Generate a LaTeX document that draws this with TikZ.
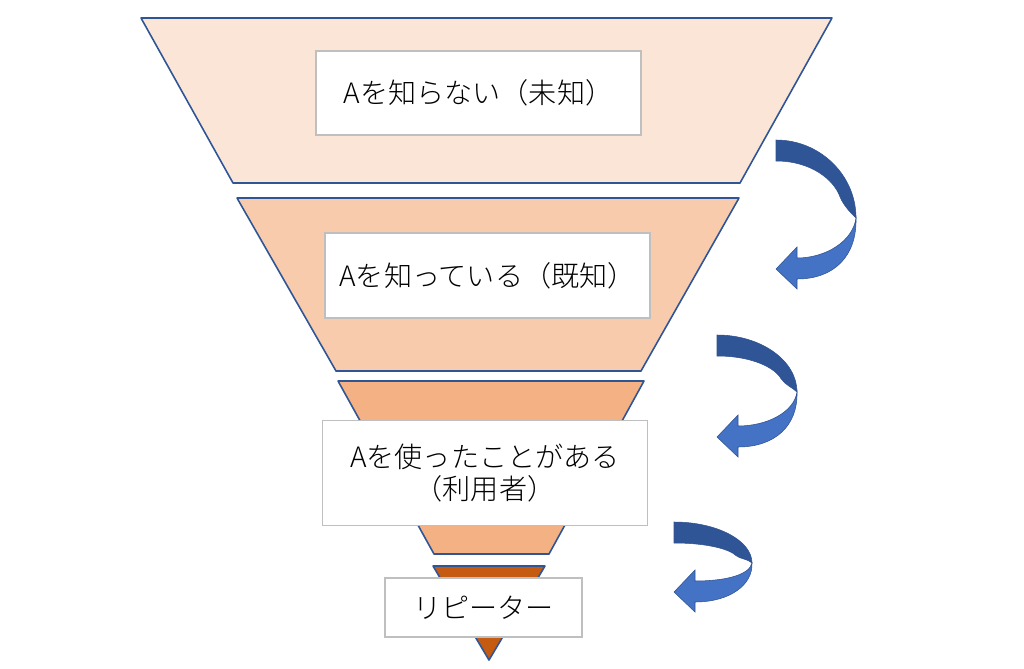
\documentclass[tikz,border=0pt]{standalone}
\usepackage{fontspec}
\newfontfamily\jp{Noto Sans CJK JP Light}
\definecolor{fillA}{HTML}{FBE5D6}
\definecolor{fillB}{HTML}{F8CBAD}
\definecolor{fillC}{HTML}{F4B183}
\definecolor{fillD}{HTML}{C55A11}
\definecolor{edgeblue}{HTML}{2F5597}
\definecolor{boxgray}{HTML}{BFBFBF}
\definecolor{arrdarkc}{HTML}{2F5597}
\definecolor{arrlightc}{HTML}{4472C4}
\definecolor{arrlinec}{HTML}{2F528F}
\newcommand\curvearrow[5]{%
\begin{scope}[shift={(#1,#2)}]
\filldraw[arrdark] (0,0) .. controls ({0.55*#3},0) and (#3,{0.45*#5}) .. (#3,#5)
  .. controls ({#3-4},{#5-4}) and ({#3-12},{21+0.8*(#5-21)}) .. ({#3-16},{21+0.63*(#5-21)})
  .. controls ({#3-22},{21+0.33*(#5-21)}) and ({0.44*#3},21) .. (0,21) -- cycle;
\filldraw[arrlight] (#3,#5) .. controls ({#3+1},{#5+0.75*(#4-#5)}) and ({#3-22},{#4+10}) .. (21,{#4+10})
  -- (21,{#4+20}) -- (0,#4) -- (21,{#4-22}) -- (21,{#4-11})
  .. controls ({#3-30},{#4-11}) and ({#3-3},{#5+0.45*(#4-#5)}) .. (#3,#5) -- cycle;
\end{scope}}
\begin{document}
\begin{tikzpicture}[x=0.02cm,y=-0.02cm,
  funnel/.style={draw=edgeblue,line width=0.9pt,line join=round},
  tbox/.style={draw=boxgray,line width=0.9pt,fill=white,inner sep=0pt,align=center,
    font=\jp\fontsize{16}{18.7}\selectfont},
  arrdark/.style={fill=arrdarkc,draw=arrlinec,line width=0.3pt},
  arrlight/.style={fill=arrlightc,draw=arrlinec,line width=0.3pt}]
\useasboundingbox (0,0) rectangle (1024,669);
% funnel layers
\filldraw[funnel,fill=fillA] (141,18) -- (832,18) -- (740,183) -- (233,183) -- cycle;
\filldraw[funnel,fill=fillB] (237,198) -- (739,198) -- (641,371) -- (336,371) -- cycle;
\filldraw[funnel,fill=fillC] (338,381) -- (644,381) -- (549,554) -- (434,554) -- cycle;
\filldraw[funnel,fill=fillD] (433,566) -- (545,566) -- (489,660) -- cycle;
% text boxes
\node[tbox,minimum width=6.5cm,minimum height=1.68cm] (b1) at (478.5,93) {Aを知らない（未知）};
\node[tbox,minimum width=6.5cm,minimum height=1.70cm] (b2) at (487.5,275.5) {Aを知っている（既知）};
\node[tbox,minimum width=6.5cm,minimum height=2.10cm] (b3) at (485,473) {Aを使ったことがある\\（利用者）};
\node[tbox,minimum width=3.94cm,minimum height=1.18cm] (b4) at (483.5,607.5) {リピーター};
% curved arrows
\curvearrow{776}{140}{80}{129}{78}
\curvearrow{717}{335}{80}{102}{57}
\curvearrow{674}{522}{78}{70}{41}
\end{tikzpicture}
\end{document}
